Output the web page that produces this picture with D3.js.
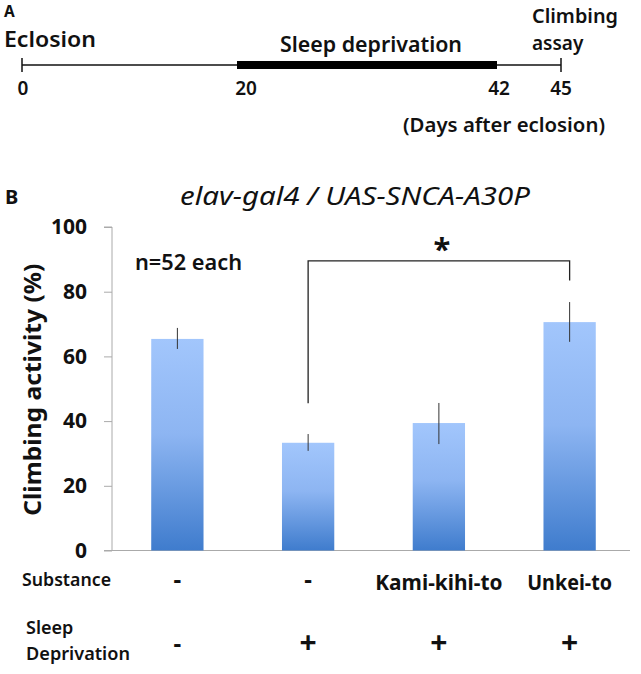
<!DOCTYPE html>
<html><head><meta charset="utf-8">
<script src="https://cdn.jsdelivr.net/npm/d3@7"></script>
<style>body{margin:0;background:#fff}svg{display:block}text{font-family:"Noto Sans","Open Sans",sans-serif;fill:#111}</style>
</head><body>
<svg id="c" width="641" height="674"></svg>
<script>
// Panel A timeline
const timelineTicks = [0, 20, 42, 45];
const deprivationRange = [20, 42];
// Panel B data
const groups = ["G1", "G2", "G3", "G4"];
const values = [65.4, 33.3, 39.4, 70.6];
const errLow = [62.3, 30.8, 32.9, 64.5];
const errHigh = [68.8, 36.0, 45.6, 76.8];
const yTicks = [0, 20, 40, 60, 80, 100];
const substance = ["-", "-", "Kami-kihi-to", "Unkei-to"];
const sleepDep = ["-", "+", "+", "+"];
const bracketFrom = 1, bracketTo = 3, bracketLevel = 89.5, bracketLeftEnd = 45.5, bracketRightEnd = 83.5;

const svg = d3.select("#c");
function fit(sel, len) { return sel.attr("textLength", len).attr("lengthAdjust", "spacingAndGlyphs"); }

// ---------- Panel A ----------
// the drawn timeline is not to scale: piecewise mapping of the day marks
const tx = d3.scaleLinear().domain(timelineTicks).range([22, 237, 497, 561]);
const ty = 65;
svg.append("text").attr("x", 4).attr("y", 17).attr("font-size", 15.5).attr("font-weight", 700).text("A");
fit(svg.append("text").attr("x", 4).attr("y", 47).attr("font-size", 22).attr("font-weight", 600).text("Eclosion"), 92);
svg.append("line").attr("x1", tx(0)).attr("x2", tx(45)).attr("y1", ty).attr("y2", ty).attr("stroke", "#111").attr("stroke-width", 1.3);
svg.append("rect").attr("x", tx(deprivationRange[0])).attr("width", tx(deprivationRange[1]) - tx(deprivationRange[0]))
  .attr("y", ty - 4).attr("height", 8).attr("fill", "#000");
[0, 45].forEach(d => svg.append("line").attr("x1", tx(d)).attr("x2", tx(d)).attr("y1", ty - 7).attr("y2", ty + 7).attr("stroke", "#111").attr("stroke-width", 1.5));
const labelShift = {0: 1, 20: 9, 42: 2, 45: 0};
svg.selectAll(".tl").data(timelineTicks).join("text").attr("x", d => tx(d) + labelShift[d]).attr("y", 95)
  .attr("text-anchor", "middle").attr("font-size", 19).attr("font-weight", 600).text(d => d);
fit(svg.append("text").attr("x", 280).attr("y", 52).attr("font-size", 21).attr("font-weight", 600).text("Sleep deprivation"), 182);
fit(svg.append("text").attr("x", 532).attr("y", 23).attr("font-size", 19).attr("font-weight", 600).text("Climbing"), 86);
svg.append("text").attr("x", 532).attr("y", 50).attr("font-size", 19).attr("font-weight", 600).text("assay");
fit(svg.append("text").attr("x", 403).attr("y", 132).attr("font-size", 20).attr("font-weight", 600).text("(Days after eclosion)"), 202);

// ---------- Panel B ----------
const x = d3.scaleBand().domain(groups).range([112, 635]).paddingInner(0.6).paddingOuter(0.3);
const y = d3.scaleLinear().domain([0, 100]).range([550.5, 227]);

const defs = svg.append("defs");
const g = defs.append("linearGradient").attr("id", "bg").attr("x1", 0).attr("x2", 0).attr("y1", 0).attr("y2", 1);
g.append("stop").attr("offset", 0).attr("stop-color", "#a2c6fc");
g.append("stop").attr("offset", 0.45).attr("stop-color", "#8db5f2");
g.append("stop").attr("offset", 1).attr("stop-color", "#3f7ccd");

svg.append("text").attr("x", 5).attr("y", 204).attr("font-size", 20).attr("font-weight", 700).text("B");
fit(svg.append("text").attr("x", 180).attr("y", 205).attr("font-size", 26).attr("font-style", "italic").text("elav-gal4 / UAS-SNCA-A30P"), 350);

// y axis
const ya = svg.append("g").attr("transform", `translate(112,0)`)
  .call(d3.axisLeft(y).tickValues(yTicks).tickSize(8).tickPadding(17));
ya.select(".domain").attr("stroke", "#aaa").attr("d", `M-8,${y(100)}H0V${y(0)}`);
ya.selectAll(".tick line").attr("stroke", "#aaa");
ya.selectAll(".tick text").attr("font-size", 21).attr("font-weight", 700).attr("fill", "#111").attr("font-family", '"Noto Sans",sans-serif');

// baseline
svg.append("line").attr("x1", 104).attr("x2", 630).attr("y1", y(0)).attr("y2", y(0)).attr("stroke", "#aaa");

fit(svg.append("text").attr("transform", `translate(41,${(y(0) + y(100)) / 2 + 1}) rotate(-90)`).attr("text-anchor", "middle")
  .attr("font-size", 23).attr("font-weight", 700).text("Climbing activity (%)"), 252);

// bars
svg.selectAll(".bar").data(groups).join("rect").attr("class", "bar")
  .attr("x", d => x(d)).attr("width", x.bandwidth())
  .attr("y", (d, i) => y(values[i])).attr("height", (d, i) => y(0) - y(values[i]))
  .attr("fill", "url(#bg)");

// error bars
svg.selectAll(".err").data(groups).join("line").attr("class", "err")
  .attr("x1", d => x(d) + x.bandwidth() / 2).attr("x2", d => x(d) + x.bandwidth() / 2)
  .attr("y1", (d, i) => y(errLow[i])).attr("y2", (d, i) => y(errHigh[i]))
  .attr("stroke", "#333").attr("stroke-width", 1);

// bracket
const bx1 = x(groups[bracketFrom]) + x.bandwidth() / 2, bx2 = x(groups[bracketTo]) + x.bandwidth() / 2;
svg.append("path").attr("d", `M${bx1},${y(bracketLeftEnd)}V${y(bracketLevel)}H${bx2}V${y(bracketRightEnd)}`)
  .attr("fill", "none").attr("stroke", "#222").attr("stroke-width", 1.3);
svg.append("text").attr("x", (bx1 + bx2) / 2 + 3).attr("y", y(bracketLevel) - 1).attr("text-anchor", "middle").attr("font-size", 31).attr("font-weight", 700).text("*");

fit(svg.append("text").attr("x", 135).attr("y", 270).attr("font-size", 21).attr("font-weight", 600).text("n=52 each"), 107);

// rows
fit(svg.append("text").attr("x", 22).attr("y", 586).attr("font-size", 18).attr("font-weight", 600).text("Substance"), 89);
svg.selectAll(".sub").data(groups).join("text").attr("x", d => x(d) + x.bandwidth() / 2).attr("y", (d, i) => substance[i].length > 1 ? 590 : 588)
  .attr("text-anchor", "middle").attr("font-size", (d, i) => substance[i].length > 1 ? 21 : 24).attr("font-weight", 700)
  .attr("textLength", (d, i) => substance[i].length > 1 ? substance[i].length * 10.6 : null)
  .attr("lengthAdjust", "spacingAndGlyphs")
  .text((d, i) => substance[i]);
svg.append("text").attr("x", 26).attr("y", 634).attr("font-size", 18).attr("font-weight", 600).text("Sleep");
fit(svg.append("text").attr("x", 26).attr("y", 660).attr("font-size", 18).attr("font-weight", 600).text("Deprivation"), 104);
svg.selectAll(".sd").data(groups).join("text").attr("x", d => x(d) + x.bandwidth() / 2).attr("y", (d, i) => sleepDep[i] === "+" ? 653 : 652)
  .attr("text-anchor", "middle").attr("font-size", (d, i) => sleepDep[i] === "+" ? 30 : 24).attr("font-weight", 700)
  .text((d, i) => sleepDep[i]);
</script>
</body></html>
